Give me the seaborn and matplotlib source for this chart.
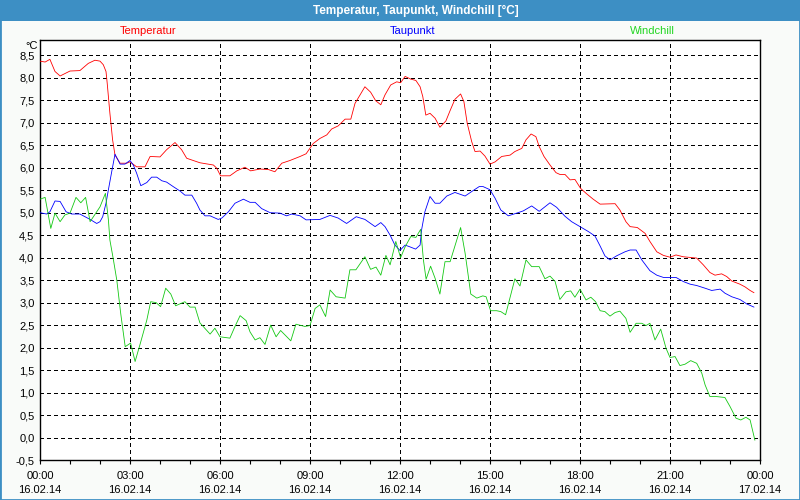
import matplotlib
matplotlib.use("Agg")
import matplotlib.pyplot as plt
from matplotlib.patches import Rectangle
import numpy as np
import pandas as pd
import seaborn as sns

# ---------------- data (hours since 16.02.14 00:00, °C) ----------------
temp_hours = [0.0, 0.17, 0.33, 0.5, 0.67, 1.0, 1.33, 1.61, 1.83, 2.0, 2.11, 2.2, 2.24, 2.33, 2.42, 2.5,
              2.67, 2.89, 3.0, 3.22, 3.5, 3.67, 4.0, 4.22, 4.5, 4.72, 4.89, 5.11, 5.33, 5.78, 5.89, 6.02,
              6.33, 6.56, 6.83, 7.02, 7.33, 7.61, 7.83, 8.06, 8.33, 8.67, 8.87, 9.11, 9.33, 9.56, 9.72,
              9.94, 10.17, 10.36, 10.5, 10.67, 10.83, 11.02, 11.19, 11.36, 11.5, 11.69, 11.89, 12.02,
              12.17, 12.36, 12.53, 12.67, 12.76, 12.86, 13.0, 13.17, 13.33, 13.53, 13.67, 13.83, 14.02,
              14.13, 14.24, 14.39, 14.5, 14.67, 14.83, 15.0, 15.17, 15.39, 15.67, 15.83, 16.06, 16.2,
              16.37, 16.53, 16.64, 16.8, 17.0, 17.2, 17.33, 17.5, 17.67, 17.83, 18.02, 18.22, 18.44,
              18.67, 19.17, 19.33, 19.53, 19.67, 19.91, 20.17, 20.33, 20.56, 20.78, 21.0, 21.2, 21.44,
              21.89, 22.11, 22.33, 22.5, 22.72, 22.89, 23.06, 23.33, 23.5, 23.67, 23.8]
temp_values = [8.37, 8.35, 8.41, 8.14, 8.04, 8.15, 8.16, 8.32, 8.39, 8.37, 8.29, 8.14, 7.88, 7.21, 6.62, 6.28,
               6.10, 6.10, 6.13, 6.02, 6.02, 6.25, 6.24, 6.40, 6.56, 6.40, 6.21, 6.16, 6.11, 6.06, 5.99, 5.82,
               5.82, 5.93, 6.01, 5.93, 5.97, 5.96, 5.91, 6.10, 6.16, 6.25, 6.31, 6.54, 6.65, 6.73, 6.86,
               6.93, 7.08, 7.08, 7.43, 7.62, 7.80, 7.68, 7.49, 7.40, 7.62, 7.84, 7.91, 7.89,
               8.03, 7.97, 7.94, 7.80, 7.58, 7.17, 7.21, 7.10, 6.90, 7.04, 7.27, 7.52, 7.64,
               7.47, 6.99, 6.58, 6.36, 6.37, 6.26, 6.08, 6.13, 6.25, 6.28, 6.36, 6.43, 6.62,
               6.75, 6.69, 6.47, 6.25, 6.06, 5.89, 5.85, 5.85, 5.73, 5.74, 5.54, 5.42, 5.30,
               5.19, 5.20, 5.06, 4.80, 4.69, 4.67, 4.54, 4.36, 4.13, 4.05, 4.01, 4.06, 4.02,
               3.99, 3.84, 3.67, 3.61, 3.64, 3.58, 3.48, 3.41, 3.35, 3.27, 3.22]

dew_hours = [0.0, 0.22, 0.33, 0.5, 0.67, 0.87, 1.06, 1.33, 1.67, 1.89, 2.0, 2.09, 2.2, 2.28, 2.39, 2.5,
             2.67, 2.83, 3.0, 3.11, 3.22, 3.36, 3.56, 3.72, 3.89, 4.06, 4.22, 4.44, 4.67, 4.83, 5.06,
             5.22, 5.33, 5.5, 5.67, 5.94, 6.06, 6.28, 6.5, 6.78, 7.0, 7.17, 7.39, 7.67, 8.0, 8.22, 8.39,
             8.67, 8.87, 9.33, 9.67, 9.94, 10.22, 10.54, 10.83, 11.17, 11.36, 11.5, 11.67, 11.83, 12.0,
             12.17, 12.33, 12.52, 12.67, 12.72, 12.83, 13.0, 13.17, 13.33, 13.56, 13.83, 14.17, 14.39,
             14.64, 14.77, 15.0, 15.17, 15.36, 15.61, 15.89, 16.11, 16.39, 16.64, 17.0, 17.22, 17.5,
             17.72, 18.0, 18.28, 18.5, 18.67, 18.83, 19.0, 19.22, 19.5, 19.67, 19.87, 20.06, 20.33,
             20.56, 20.78, 21.2, 21.44, 21.67, 21.89, 22.17, 22.39, 22.67, 22.83, 23.06, 23.33, 23.56,
             23.8]
dew_values = [5.00, 4.97, 5.02, 5.26, 5.25, 5.02, 4.97, 4.97, 4.85, 4.76, 4.80, 4.91, 5.21, 5.51, 5.91, 6.30,
              6.08, 6.08, 6.16, 6.06, 5.88, 5.60, 5.67, 5.79, 5.79, 5.71, 5.68, 5.58, 5.48, 5.39, 5.39,
              5.21, 5.06, 4.93, 4.93, 4.85, 4.88, 5.02, 5.21, 5.30, 5.23, 5.23, 5.09, 5.00, 4.99, 4.93, 4.97,
              4.93, 4.84, 4.85, 4.94, 4.88, 4.76, 4.91, 4.85, 4.69, 4.78, 4.69, 4.50, 4.28, 4.16,
              4.28, 4.24, 4.19, 4.28, 4.62, 5.02, 5.36, 5.21, 5.21, 5.37, 5.45, 5.37, 5.47,
              5.58, 5.58, 5.51, 5.32, 5.06, 4.93, 4.99, 5.04, 5.15, 5.03, 5.22, 5.12, 4.92,
              4.80, 4.69, 4.58, 4.48, 4.26, 4.04, 3.95, 4.04, 4.13, 4.17, 4.17, 3.95, 3.71,
              3.61, 3.56, 3.56, 3.47, 3.41, 3.38, 3.32, 3.27, 3.30, 3.21, 3.13, 3.07, 2.97,
              2.90]

wind_hours = [0.0, 0.17, 0.36, 0.5, 0.67, 0.83, 1.0, 1.2, 1.36, 1.52, 1.67, 2.0, 2.18, 2.28, 2.33, 2.44,
              2.56, 2.69, 2.84, 3.02, 3.17, 3.33, 3.56, 3.69, 3.87, 4.02, 4.19, 4.36, 4.52, 4.83, 5.0,
              5.17, 5.33, 5.67, 5.83, 6.0, 6.33, 6.5, 6.67, 6.87, 7.0, 7.17, 7.33, 7.5, 7.69, 7.87, 8.02,
              8.36, 8.53, 8.83, 9.0, 9.17, 9.33, 9.52, 9.67, 9.87, 10.17, 10.33, 10.53, 10.83, 11.02,
              11.2, 11.36, 11.53, 11.67, 11.86, 12.02, 12.17, 12.36, 12.53, 12.69, 12.78, 12.87, 13.02,
              13.17, 13.33, 13.5, 13.67, 14.02, 14.17, 14.36, 14.56, 14.76, 14.87, 15.02, 15.22, 15.36,
              15.52, 15.83, 16.0, 16.2, 16.39, 16.64, 16.83, 17.0, 17.17, 17.33, 17.53, 17.69, 17.83,
              18.0, 18.2, 18.36, 18.52, 18.67, 18.83, 19.0, 19.17, 19.33, 19.53, 19.67, 19.87, 20.06,
              20.2, 20.33, 20.5, 20.69, 20.87, 21.0, 21.17, 21.33, 21.5, 21.69, 21.89, 22.06, 22.17,
              22.33, 22.56, 22.83, 23.0, 23.2, 23.36, 23.53, 23.67, 23.83]
wind_values = [5.30, 5.34, 4.65, 4.99, 4.80, 4.95, 4.99, 5.34, 5.22, 5.34, 4.80, 5.13, 5.43, 4.84, 4.39, 3.98,
               3.50, 2.76, 2.02, 2.10, 1.69, 2.06, 2.61, 3.02, 3.00, 2.91, 3.32, 3.19, 2.93, 3.02, 2.90,
               2.90, 2.55, 2.30, 2.43, 2.24, 2.21, 2.47, 2.71, 2.60, 2.35, 2.17, 2.22, 2.07, 2.50, 2.24, 2.38,
               2.15, 2.52, 2.47, 2.49, 2.87, 2.95, 2.69, 3.28, 3.13, 3.10, 3.73, 3.73, 4.02, 3.74,
               3.79, 3.61, 4.05, 3.84, 4.36, 4.00, 4.24, 4.47, 4.45, 4.63, 3.95, 3.52, 3.81,
               3.54, 3.19, 3.91, 3.91, 4.67, 4.10, 3.19, 3.10, 3.15, 3.13, 2.82, 2.82, 2.80,
               2.73, 3.53, 3.37, 3.95, 3.80, 3.80, 3.53, 3.59, 3.47, 3.07, 3.24, 3.26, 3.12,
               3.30, 3.06, 3.12, 3.02, 2.82, 2.80, 2.70, 2.78, 2.81, 2.65, 2.34, 2.54, 2.54,
               2.49, 2.54, 2.17, 2.41, 1.98, 1.78, 1.80, 1.60, 1.63, 1.71, 1.65, 1.43, 1.17,
               0.91, 0.91, 0.89, 0.69, 0.43, 0.39, 0.45, 0.39, -0.06]

series_names = ["Temperatur", "Taupunkt", "Windchill"]
series_colors = ["#ff0000", "#0000ff", "#14c814"]
label_colors = ["#ff0000", "#0000ff", "#22d622"]

x_tick_hours = [0, 3, 6, 9, 12, 15, 18, 21, 24]
x_tick_labels = ["00:00\n16.02.14", "03:00\n16.02.14", "06:00\n16.02.14", "09:00\n16.02.14",
                 "12:00\n16.02.14", "15:00\n16.02.14", "18:00\n16.02.14", "21:00\n16.02.14",
                 "00:00\n17.02.14"]
y_ticks = [-0.5, 0.0, 0.5, 1.0, 1.5, 2.0, 2.5, 3.0, 3.5, 4.0, 4.5, 5.0, 5.5, 6.0, 6.5, 7.0, 7.5, 8.0, 8.5]

title = "Temperatur, Taupunkt, Windchill [°C]"

# ---------------- build long table ----------------
frames = []
for name, h, v in zip(series_names, [temp_hours, dew_hours, wind_hours],
                      [temp_values, dew_values, wind_values]):
    frames.append(pd.DataFrame({"hour": h, "value": v, "series": name}))
df = pd.concat(frames, ignore_index=True)

sns.set_theme(style="white")
plt.rcParams["font.family"] = ["Liberation Sans", "DejaVu Sans"]

BG = "#f9fbf9"
BAR = "#3d8fc4"

fig = plt.figure(figsize=(8, 5), dpi=100, facecolor=BG)
ax = fig.add_axes([0.05, 0.08, 0.90, 0.84])
ax.set_facecolor("white")

sns.lineplot(data=df, x="hour", y="value", hue="series", hue_order=series_names,
             palette=dict(zip(series_names, series_colors)), estimator=None,
             linewidth=0.6, legend=False, ax=ax, zorder=3)

ax.set_xlim(0, 24)
ax.set_ylim(-0.5, 8.84)
ax.set_xlabel("")
ax.set_ylabel("")

ax.set_xticks(x_tick_hours)
ax.set_xticklabels(x_tick_labels, fontsize=8, color="black", linespacing=1.45)
ax.set_xticks(np.arange(0, 25, 1), minor=True)
ax.set_yticks(y_ticks)
ax.set_yticklabels([f"{v:.1f}".replace(".", ",") for v in y_ticks], fontsize=8, color="black")

ax.tick_params(axis="x", which="both", direction="out", length=3, width=0.8, color="black",
               bottom=True, pad=5)
ax.tick_params(axis="y", which="both", length=0, pad=4, left=False)

ax.grid(True, which="major", color="black", linestyle=(0, (3, 3)), linewidth=0.72)
for gl in ax.get_xgridlines() + ax.get_ygridlines():
    gl.set_antialiased(False)
ax.set_axisbelow(True)
for sp in ax.spines.values():
    sp.set_visible(True)
    sp.set_color("black")
    sp.set_linewidth(1.0)

# title bar
fig.patches.append(Rectangle((0, 1 - 21 / 500), 1, 21 / 500, transform=fig.transFigure,
                             facecolor=BAR, edgecolor="none", zorder=0))
fig.patches.append(Rectangle((0, 0), 1, 1, transform=fig.transFigure, fill=False,
                             edgecolor=BAR, linewidth=2.0, zorder=0))
fig.text(416 / 800, 1 - 10.5 / 500, title, ha="center", va="center", color="white",
         fontsize=8.5, fontweight="bold")

# series labels above plot
for name, col, xc in zip(series_names, label_colors, [148, 413, 652]):
    fig.text(xc / 800, 1 - 31 / 500, name, ha="center", va="center", color=col, fontsize=8)

fig.text(38 / 800, 1 - 46 / 500, "°C", ha="right", va="center", color="black", fontsize=8)

fig.savefig("out.png", dpi=100, facecolor=BG)
